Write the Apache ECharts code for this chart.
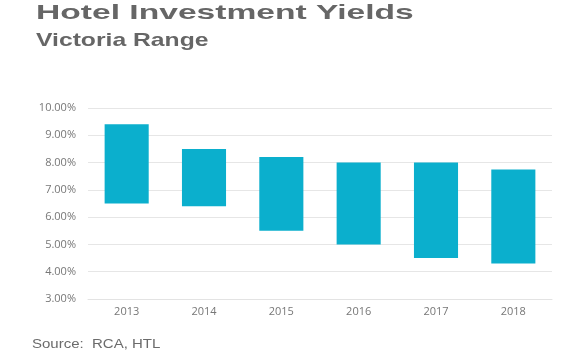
<!DOCTYPE html>
<html>
<head>
<meta charset="utf-8">
<script src="https://cdn.jsdelivr.net/npm/echarts@6/dist/echarts.min.js"></script>
<style>
  html, body { margin: 0; padding: 0; background: #fff; }
  #chart { width: 580px; height: 352px; }
</style>
</head>
<body>
<div id="chart"></div>
<script>
const years = ['2013', '2014', '2015', '2016', '2017', '2018'];
const lowYield = [6.5, 6.4, 5.5, 5.0, 4.5, 4.3];
const highYield = [9.4, 8.5, 8.2, 8.0, 8.0, 7.75];

const chart = echarts.init(document.getElementById('chart'));

// the source picture is stretched sideways, so the texts get a scaleX
const option = {
  animation: false,
  graphic: [
    {
      type: 'text',
      x: 36,
      y: 13,
      scaleX: 1.6,
      style: {
        text: 'Hotel Investment Yields',
        fill: '#666',
        font: 'bold 21px "Liberation Sans"',
        textVerticalAlign: 'middle'
      }
    },
    {
      type: 'text',
      x: 36,
      y: 41,
      scaleX: 1.3,
      style: {
        text: 'Victoria Range',
        fill: '#666',
        font: 'bold 19px "Liberation Sans"',
        textVerticalAlign: 'middle'
      }
    },
    {
      type: 'text',
      x: 32,
      y: 345,
      scaleX: 1.25,
      style: {
        text: 'Source:  RCA, HTL',
        fill: '#6b6b6b',
        font: '12px "Liberation Sans"',
        textVerticalAlign: 'middle'
      }
    }
  ],
  grid: { left: 88, right: 28, top: 108, bottom: 53 },
  xAxis: {
    type: 'category',
    data: years,
    axisLine: { lineStyle: { color: '#e3e3e3' } },
    axisTick: { show: false },
    axisLabel: { color: '#777', fontSize: 11, margin: 7, fontFamily: 'Open Sans' }
  },
  yAxis: {
    type: 'value',
    min: 3,
    max: 10,
    interval: 1,
    axisLine: { show: false },
    axisTick: { show: false },
    splitLine: { lineStyle: { color: '#e6e6e6' } },
    axisLabel: {
      color: '#777',
      fontSize: 11,
      margin: 12,
      fontFamily: 'Open Sans',
      formatter: (v) => v.toFixed(2) + '%'
    }
  },
  series: [
    {
      type: 'bar',
      stack: 'range',
      data: lowYield,
      barWidth: '57%',
      itemStyle: { color: 'transparent' },
      silent: true
    },
    {
      type: 'bar',
      stack: 'range',
      data: highYield.map((h, i) => +(h - lowYield[i]).toFixed(2)),
      barWidth: '57%',
      itemStyle: { color: '#0bafcd' }
    }
  ]
};

chart.setOption(option);

window.addEventListener('resize', () => {
  chart.resize();
});
</script>
</body>
</html>
